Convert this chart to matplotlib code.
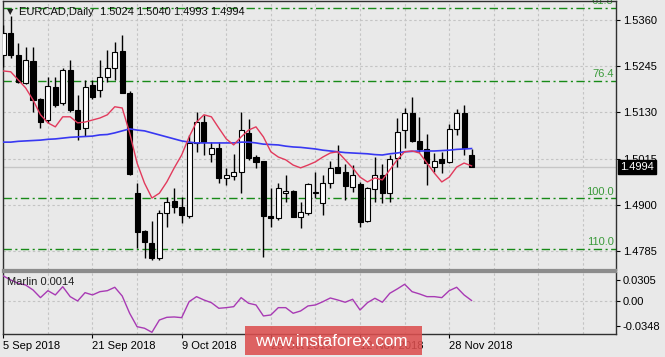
import numpy as np
import matplotlib
matplotlib.use("Agg")
import matplotlib.pyplot as plt
from matplotlib.patches import Rectangle

plt.rcParams['font.family'] = ['Liberation Sans', 'DejaVu Sans']

# ---------------- data ----------------
opens = [1.5273, 1.5328, 1.5273, 1.5203, 1.5258, 1.5163, 1.5111, 1.5193, 1.5154, 1.5236,
         1.5136, 1.5091, 1.5198, 1.5186, 1.5218, 1.5241, 1.5283, 1.5178, 1.4929, 1.4835,
         1.4805, 1.4768, 1.4880, 1.4910, 1.4895, 1.4872, 1.5054, 1.5106, 1.5027, 1.5041,
         1.4967, 1.4972, 1.4982, 1.5079, 1.5019, 1.5009, 1.4872, 1.4867, 1.4929, 1.4934,
         1.4870, 1.4880, 1.4929, 1.4905, 1.4954, 1.4994, 1.4982, 1.4944, 1.4952, 1.4860,
         1.4939, 1.4974, 1.4929, 1.5017, 1.5086, 1.5129, 1.5059, 1.5039, 1.4994, 1.5014,
         1.5007, 1.5089, 1.5129, 1.5024]
highs = [1.5348, 1.5370, 1.5303, 1.5293, 1.5293, 1.5165, 1.5218, 1.5218, 1.5241, 1.5261,
         1.5173, 1.5211, 1.5211, 1.5261, 1.5285, 1.5305, 1.5323, 1.5183, 1.4954, 1.4837,
         1.4860, 1.4887, 1.4920, 1.4942, 1.4920, 1.5074, 1.5131, 1.5124, 1.5056, 1.5056,
         1.4992, 1.5027, 1.5131, 1.5114, 1.5024, 1.5009, 1.4942, 1.4954, 1.4974, 1.4937,
         1.4907, 1.4954, 1.4982, 1.4974, 1.5009, 1.5049, 1.5002, 1.4999, 1.4957, 1.4944,
         1.5019, 1.5002, 1.5024, 1.5116, 1.5141, 1.5168, 1.5119, 1.5076, 1.5029, 1.5032,
         1.5101, 1.5138, 1.5148, 1.5040]
lows = [1.5243, 1.5265, 1.5203, 1.5200, 1.5131, 1.5091, 1.5104, 1.5144, 1.5149, 1.5131,
        1.5061, 1.5071, 1.5163, 1.5168, 1.5206, 1.5211, 1.5178, 1.4974, 1.4793, 1.4768,
        1.4763, 1.4763, 1.4845, 1.4880, 1.4855, 1.4867, 1.5032, 1.5024, 1.5007, 1.4954,
        1.4949, 1.4962, 1.4929, 1.5012, 1.4992, 1.4770, 1.4845, 1.4862, 1.4907, 1.4870,
        1.4842, 1.4875, 1.4917, 1.4875, 1.4942, 1.4979, 1.4912, 1.4932, 1.4845, 1.4857,
        1.4907, 1.4905, 1.4907, 1.4994, 1.5041, 1.5056, 1.5032, 1.4949, 1.4982, 1.4979,
        1.5004, 1.5074, 1.5024, 1.4993]
closes = [1.5328, 1.5273, 1.5206, 1.5261, 1.5161, 1.5106, 1.5196, 1.5149, 1.5236, 1.5136,
          1.5089, 1.5193, 1.5168, 1.5218, 1.5241, 1.5280, 1.5178, 1.4977, 1.4832, 1.4807,
          1.4768, 1.4880, 1.4907, 1.4895, 1.4875, 1.5054, 1.5106, 1.5056, 1.5041, 1.4967,
          1.4974, 1.4982, 1.5086, 1.5017, 1.5007, 1.4872, 1.4867, 1.4942, 1.4934, 1.4870,
          1.4882, 1.4952, 1.4932, 1.4954, 1.4992, 1.4979, 1.4947, 1.4974, 1.4857, 1.4942,
          1.4974, 1.4929, 1.5014, 1.5081, 1.5129, 1.5059, 1.5039, 1.5004, 1.5009, 1.5004,
          1.5089, 1.5129, 1.5041, 1.4994]

red_ma = [1.5233, 1.5231, 1.5211, 1.5191, 1.5161, 1.5124, 1.5104, 1.5094, 1.5119, 1.5119,
          1.5104, 1.5106, 1.5111, 1.5116, 1.5124, 1.5144, 1.5141, 1.5079, 1.5004, 1.4954,
          1.4917, 1.4929, 1.4957, 1.4992, 1.5024, 1.5069, 1.5106, 1.5124, 1.5119, 1.5091,
          1.5064, 1.5049, 1.5069, 1.5086, 1.5094, 1.5069, 1.5032, 1.5019, 1.5012, 1.4999,
          1.4992, 1.4999, 1.5007, 1.5019, 1.5029, 1.5032, 1.5012, 1.4992, 1.4969, 1.4957,
          1.4967, 1.4962, 1.4987, 1.5012, 1.5032, 1.5034, 1.5029, 1.5004, 1.4979, 1.4957,
          1.4969, 1.4994, 1.5004, 1.4997]
blue_ma = [1.5056, 1.5056, 1.5058, 1.5059, 1.5060, 1.5061, 1.5063, 1.5064, 1.5066, 1.5068,
           1.5069, 1.5070, 1.5071, 1.5074, 1.5075, 1.5079, 1.5084, 1.5089, 1.5086, 1.5084,
           1.5079, 1.5074, 1.5069, 1.5064, 1.5059, 1.5056, 1.5054, 1.5054, 1.5054, 1.5054,
           1.5054, 1.5054, 1.5056, 1.5056, 1.5054, 1.5051, 1.5050, 1.5049, 1.5046, 1.5044,
           1.5043, 1.5041, 1.5039, 1.5036, 1.5034, 1.5032, 1.5030, 1.5029, 1.5028, 1.5027,
           1.5025, 1.5024, 1.5027, 1.5029, 1.5032, 1.5033, 1.5034, 1.5034, 1.5034, 1.5035,
           1.5036, 1.5038, 1.5039, 1.5040]
marlin = [0.0359, 0.0303, 0.0256, 0.0232, 0.0162, 0.0054, 0.0152, 0.0092, 0.0208, 0.0068,
          0.0007, 0.0124, 0.0092, 0.0138, 0.0152, 0.0200, 0.0077, -0.0166, -0.0355, -0.0377,
          -0.0434, -0.0261, -0.0223, -0.0218, -0.0228, -0.0003, 0.0068, 0.0021, -0.0017, -0.0096,
          -0.0087, -0.0073, 0.0054, -0.0025, -0.0049, -0.0204, -0.0190, -0.0087, -0.0087, -0.0166,
          -0.0134, -0.0063, -0.0049, -0.0003, 0.0049, 0.0021, -0.0011, 0.0031, -0.0120, -0.0017,
          0.0045, -0.0011, 0.0115, 0.0176, 0.0242, 0.0138, 0.0106, 0.0068, 0.0068, 0.0054,
          0.0152, 0.0200, 0.0092, 0.0014]

date_idx = [0, 12, 24, 36, 48, 60]
date_labels = ["5 Sep 2018", "21 Sep 2018", "9 Oct 2018", "25 Oct 2018", "12 Nov 2018", "28 Nov 2018"]
price_ticks = [1.5360, 1.5245, 1.5130, 1.5015, 1.4900, 1.4785]
osc_ticks = [0.0305, 0.0, -0.0348]
osc_tick_labels = ["0.0305", "0.00", "-0.0348"]
fib_levels = ["61.8", "76.4", "100.0", "110.0"]
fib_prices = [1.5390, 1.5209, 1.4916, 1.4791]
title = "EURCAD,Daily  1.5024 1.5040 1.4993 1.4994"
last_price = 1.4994

# ---------------- figure ----------------
BG = "#e9e9e9"
W, H = 665, 357
fig = plt.figure(figsize=(W / 100, H / 100), dpi=100, facecolor=BG)

def fx(px):
    return px / W

def fy(py):
    return 1 - py / H

ax = fig.add_axes([fx(3), fy(270), fx(615.7) - fx(3), fy(1) - fy(270)], facecolor=BG)
ax2 = fig.add_axes([fx(3), fy(334), fx(615.7) - fx(3), fy(272) - fy(334)], facecolor=BG)

n = len(opens)
x = np.arange(n)
o = np.array(opens); c = np.array(closes); h = np.array(highs); l = np.array(lows)

XMIN, XMAX = -0.04, 82.4
grid_kw = dict(color="#c4c4c4", lw=0.8, dashes=(2.2, 2.2), zorder=1)
for gx in range(0, 84, 6):
    ax.axvline(gx, **grid_kw)
    ax2.axvline(gx, **grid_kw)
for p in price_ticks:
    ax.axhline(p, **grid_kw)
ax2.axhline(0.0, **grid_kw)

# current price line
ax.axhline(last_price, color="#c6c6c6", lw=1, zorder=1.5)

# fibonacci levels
for lev, p in zip(fib_levels, fib_prices):
    ax.axhline(p, color="#178a17", lw=1, dashes=(6, 2.5, 1.5, 2.5), zorder=2)
    ax.text(82.1, p + 0.00035, lev, ha="right", va="bottom", color="#3a9a3a", fontsize=8, zorder=2)

# candles
ax.vlines(x, l, h, color="black", lw=1, zorder=3)
bottoms = np.minimum(o, c)
heights = np.maximum(np.abs(c - o), 0.00008)
colors = ["white" if cc > oo else "black" for oo, cc in zip(o, c)]
ax.bar(x, heights, bottom=bottoms, width=0.68, color=colors, edgecolor="black", linewidth=0.8, zorder=4)

# moving averages
ax.plot(x, blue_ma, color="#3838f2", lw=1.2, zorder=5)
ax.plot(x, red_ma, color="#e23a5c", lw=1.0, zorder=6)

ax.set_xlim(XMIN, XMAX)
ax.set_ylim(1.4738, 1.5407)
ax.yaxis.tick_right()
ax.set_yticks(price_ticks)
ax.set_yticklabels([f"{p:.4f}" for p in price_ticks])
ax.tick_params(axis="y", direction="out", length=3, width=0.8, pad=2, labelsize=8, colors="black")
ax.tick_params(axis="x", bottom=False, labelbottom=False)

# oscillator
ax2.plot(x, marlin, color="#a83ab4", lw=1.0, zorder=5)
ax2.set_xlim(XMIN, XMAX)
ax2.set_ylim(-0.0458, 0.0415)
ax2.yaxis.tick_right()
ax2.set_yticks(osc_ticks)
ax2.set_yticklabels(osc_tick_labels)
ax2.tick_params(axis="y", direction="out", length=3, width=0.8, pad=2, labelsize=8, colors="black")
ax2.set_xticks(date_idx)
ax2.set_xticklabels(date_labels, ha="left")
ax2.tick_params(axis="x", direction="out", length=3, width=0.8, pad=2, labelsize=8, colors="black")

for a in (ax, ax2):
    for s in ("left", "right", "top", "bottom"):
        a.spines[s].set_color("#303030")
        a.spines[s].set_linewidth(1.0)
ax.spines["bottom"].set_color("#8c8c8c")
ax.spines["bottom"].set_linewidth(1.6)
ax2.spines["top"].set_color("#8c8c8c")
ax2.spines["top"].set_linewidth(1.6)

# texts
fig.text(fx(19), fy(12), title, fontsize=8, va="center", ha="left", color="#101010")
fig.text(fx(10), fy(11.5), "\u25BC", fontsize=6, va="center", ha="center", color="#202020",
         family=["DejaVu Sans"])
fig.text(fx(7), fy(282), "Marlin 0.0014", fontsize=8, va="center", ha="left", color="#202020")
fig.text(fx(620), fy(167), f"{last_price:.4f}", fontsize=8, va="center", ha="left", color="white",
         bbox=dict(facecolor="black", edgecolor="black", pad=1.6), zorder=20)

# watermark
rect = Rectangle((fx(245), fy(355)), fx(422) - fx(245), fy(326) - fy(355), transform=fig.transFigure,
                 facecolor="#dc4f4f", edgecolor="none", alpha=0.88, zorder=30)
fig.add_artist(rect)
fig.text(fx(331.5), fy(341), "www.instaforex.com", fontsize=12.3, ha="center", va="center",
         color="white", zorder=31)

fig.savefig("out.png", dpi=100, facecolor=BG)
